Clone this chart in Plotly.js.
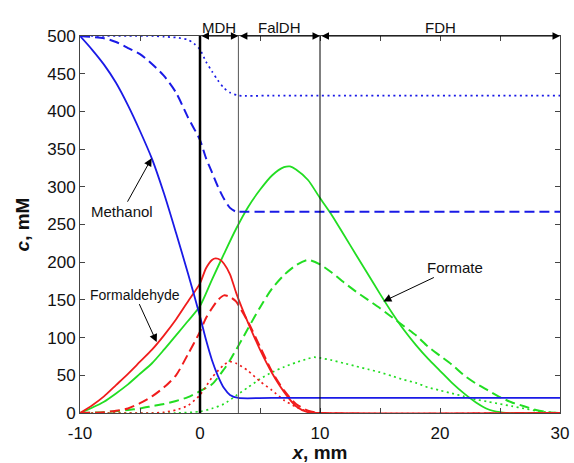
<!DOCTYPE html>
<html>
<head>
<meta charset="utf-8">
<script src="https://cdn.plot.ly/plotly-3.0.1.min.js"></script>
<style>html,body{margin:0;padding:0;background:#fff}#chart{width:574px;height:463px}</style>
</head>
<body>
<div id="chart"></div>
<script>
// ---- Methanol (blue) ----
const methSolidX = [-10,-9,-8,-7,-6,-5,-4,-3,-2,-1,0,0.5,1,1.5,2,2.5,3.2,6,30];
const methSolidY = [500,482,462,438,408,374,337,291,239,185,128,97,70,49,33,24,20,20,20];
const methDashX = [-10,-8,-7,-6,-5,-4,-3,-2,-1,0,0.5,1,1.5,2,2.5,3,3.2,6,30];
const methDashY = [500,497,492,484,476,463,447,425,392,362,338,319,300,284,272,267,267,267,267];
const methDotX = [-10,-4,-3,-2,-1,-0.5,0,0.5,1,1.5,2,2.5,3.2,6,30];
const methDotY = [500,500,499,498,495,490,482,466,453,441,431,425,421,421,421];
// ---- Formaldehyde (red) ----
const formaldSolidX = [-10,-9,-8,-7,-6,-5,-4,-3,-2,-1,0,0.5,1,1.3,1.7,2,2.5,3,3.5,4,5,6,7,8,9,10,30];
const formaldSolidY = [0,10,22,37,52,68,84,103,124,148,172,192,203,205,203,198,184,160,139,120,84,53,28,9,1,0,0];
const formaldDashX = [-10,-8,-7,-6,-5,-4,-3,-2,-1,0,0.5,1,1.5,2,2.5,3,3.5,4,5,6,7,8,9,10,30];
const formaldDashY = [0,1,3,6,13,22,34,50,78,108,126,139,150,156,154,148,135,121,88,55,30,12,3,0,0];
const formaldDotX = [-10,-4,-3,-2,-1,0,1,2,2.5,3,4,5,6,7,8,9,10,30];
const formaldDotY = [0,0,1,4,10,24,47,64,68,66,56,42,30,17,8,2,0,0];
// ---- Formate (green) ----
const formateSolidX = [-10,-9,-8,-7,-6,-5,-4,-3,-2,-1,0,1,2,3,4,5,6,7,7.5,8,9,10,11,12,13,14,15,16,17,18,19,20,21,22,23,24,25,25.5,30];
const formateSolidY = [0,7,15,26,38,52,66,84,103,122,142,177,211,244,273,296,315,326,327,323,309,285,262,236,210,184,158,133,110,90,72,56,40,26,14,5,1,0,0];
const formateDashX = [-10,-8,-6,-5,-4,-3,-2,-1,0,1,2,2.5,3.3,4,5,6,7,8,9,10,11,12,13,14,15,16,17,18,19,20,21,22,23,24,25,26,27,28,29,30];
const formateDashY = [0,1,4,6,9,12,16,21,29,38,58,70,92,112,140,165,183,196,203,197,186,173,161,150,139,127,115,103,88,76,64,50,39,30,21,14,9,4,1,0];
const formateDotX = [-10,-2,0,1,2,3,4,5,6,7,8,9,9.5,10,11,12,13,14,15,16,17,18,19,20,21,22,23,24,25,26,27,28,29,30];
const formateDotY = [0,0,2,6,12,23,34,45,54,61,67,72,74,73,70,66,62,58,54,49,44,40,34,30,26,22,18,15,12,9,6,3,1,0];

// ---- axis ticks ----
const xTickVals = [-10,-5,0,5,10,15,20,25,30];
const xTickText = ['-10','','0','','10','','20','','30'];
const yTickVals = [0,50,100,150,200,250,300,350,400,450,500];
const yTickText = ['0','50','100','150','200','250','300','350','400','450','500'];

// ---- zone boundaries and labels ----
const zoneEdges = [0, 3.2, 10, 30];
const zoneNames = ['MDH', 'FalDH', 'FDH'];

const BLUE = '#1a1ae6', RED = '#f01c1c', GREEN = '#22dd22';
function tr(x, y, color, dash, width) {
  return {x: x, y: y, type: 'scatter', mode: 'lines',
    line: {color: color, width: width, dash: dash, shape: 'spline', smoothing: 0.7},
    hoverinfo: 'skip', showlegend: false};
}
const DASH = '10px,5px', DOT = '2px,3.5px';
const data = [
  tr(formateDotX, formateDotY, GREEN, DOT, 1.7),
  tr(formateDashX, formateDashY, GREEN, DASH, 2),
  tr(formateSolidX, formateSolidY, GREEN, 'solid', 1.8),
  tr(formaldDotX, formaldDotY, RED, DOT, 1.7),
  tr(formaldDashX, formaldDashY, RED, DASH, 2),
  tr(formaldSolidX, formaldSolidY, RED, 'solid', 1.8),
  tr(methDotX, methDotY, BLUE, DOT, 1.7),
  tr(methDashX, methDashY, BLUE, DASH, 2),
  tr(methSolidX, methSolidY, BLUE, 'solid', 1.8)
];

const FONT = 'Liberation Sans, Arial, Helvetica, sans-serif';
const annotations = [
  {x: -4.03, y: 338, ax: -6.5, ay: 267, axref: 'x', ayref: 'y', xref: 'x', yref: 'y',
   text: 'Methanol', showarrow: true, arrowhead: 2, arrowsize: 1.6, arrowwidth: 1, arrowcolor: '#000',
   font: {family: FONT, size: 15, color: '#111'}},
  {x: -3.61, y: 94, ax: -5.42, ay: 157, axref: 'x', ayref: 'y', xref: 'x', yref: 'y',
   text: 'Formaldehyde', showarrow: true, arrowhead: 2, arrowsize: 1.6, arrowwidth: 1, arrowcolor: '#000',
   font: {family: FONT, size: 14, color: '#111'}},
  {x: 15.28, y: 148, ax: 21.25, ay: 193, axref: 'x', ayref: 'y', xref: 'x', yref: 'y',
   text: 'Formate', showarrow: true, arrowhead: 2, arrowsize: 1.6, arrowwidth: 1, arrowcolor: '#000',
   font: {family: FONT, size: 15, color: '#111'}}
];
for (let i = 0; i < zoneNames.length; i++) {
  const a = zoneEdges[i], b = zoneEdges[i + 1];
  annotations.push({x: b, y: 500, ax: a, ay: 500, axref: 'x', ayref: 'y', xref: 'x', yref: 'y',
    text: '', showarrow: true, arrowhead: 2, arrowside: 'end+start', arrowsize: 1.5, arrowwidth: 1,
    arrowcolor: '#000', standoff: 0, startstandoff: 0});
  annotations.push({x: (a + b) / 2, y: 1.05, xref: 'x', yref: 'paper', text: zoneNames[i],
    showarrow: false, font: {family: FONT, size: 15, color: '#111'}});
}

const shapes = [
  {type: 'line', xref: 'x', yref: 'paper', x0: 0, x1: 0, y0: 0, y1: 1, line: {color: '#000', width: 2.5}},
  {type: 'line', xref: 'x', yref: 'paper', x0: 3.2, x1: 3.2, y0: 0, y1: 1, line: {color: '#555', width: 1}},
  {type: 'line', xref: 'x', yref: 'paper', x0: 10, x1: 10, y0: 0, y1: 1, line: {color: '#000', width: 1}}
];

const layout = {
  width: 574, height: 463,
  margin: {l: 80, r: 14, t: 36, b: 50},
  paper_bgcolor: '#fff', plot_bgcolor: '#fff',
  showlegend: false,
  font: {family: FONT, size: 17, color: '#111'},
  xaxis: {range: [-10, 30], tickmode: 'array', tickvals: xTickVals, ticktext: xTickText,
    ticks: 'inside', ticklen: 5, tickcolor: '#444', showline: true, linecolor: '#444', linewidth: 1,
    mirror: 'ticks', showgrid: false, zeroline: false, ticklabelstandoff: 5,
    tickfont: {family: FONT, size: 17, color: '#111'},
    title: {text: '<b><i>x</i>, mm</b>', font: {family: FONT, size: 19, color: '#111'}, standoff: 2}},
  yaxis: {range: [0, 500], tickmode: 'array', tickvals: yTickVals, ticktext: yTickText,
    ticks: 'inside', ticklen: 5, tickcolor: '#444', showline: true, linecolor: '#444', linewidth: 1,
    mirror: 'ticks', showgrid: false, zeroline: false,
    tickfont: {family: FONT, size: 17, color: '#111'},
    title: {text: '<b><i>c</i>, mM</b>', font: {family: FONT, size: 19, color: '#111'}, standoff: 12}},
  shapes: shapes,
  annotations: annotations
};

Plotly.newPlot('chart', data, layout, {displayModeBar: false, staticPlot: true});
</script>
</body>
</html>
